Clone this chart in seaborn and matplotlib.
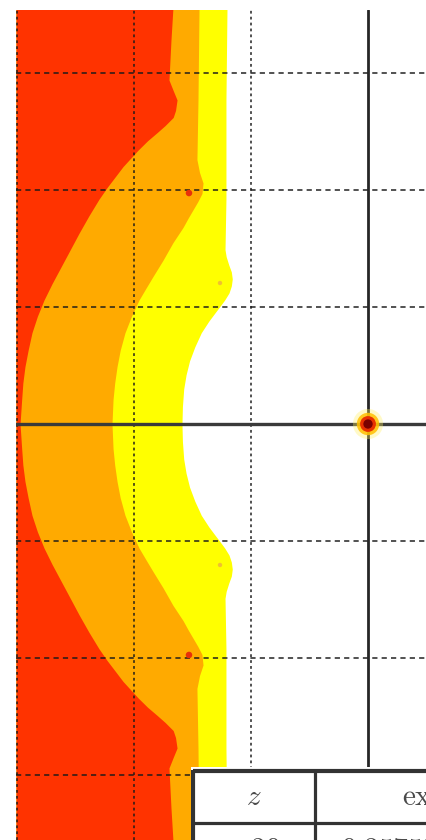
import numpy as np
import matplotlib
matplotlib.use("Agg")
import matplotlib.pyplot as plt
import seaborn as sns

# ---- data (upper half; the plot is mirror-symmetric about Im z = 0) ----
red_y = [3.56, 3.28, 2.94, 2.85, 2.77, 2.68, 2.62, 2.55, 2.49, 2.42, 2.34, 2.20, 2.10,
         2.02, 1.92, 1.78, 1.63, 1.48, 1.34, 1.20, 1.06, 0.92, 0.78, 0.63, 0.49, 0.35,
         0.21, 0.00]
red_x = [-1.667, -1.684, -1.701, -1.665, -1.632, -1.645, -1.665, -1.735, -1.803, -1.885,
         -1.966, -2.094, -2.170, -2.231, -2.300, -2.385, -2.470, -2.550, -2.625, -2.700,
         -2.769, -2.826, -2.872, -2.905, -2.932, -2.950, -2.960, -2.974]

orange_y = [3.56, 2.77, 2.26, 2.15, 2.06, 1.97, 1.90, 1.83, 1.76, 1.68, 1.55, 1.40,
            1.26, 1.16, 1.06, 0.92, 0.78, 0.63, 0.49, 0.35, 0.21, 0.00]
orange_x = [-1.444, -1.453, -1.462, -1.440, -1.410, -1.419, -1.455, -1.496, -1.537,
            -1.581, -1.667, -1.752, -1.838, -1.898, -1.957, -2.022, -2.077, -2.118,
            -2.145, -2.165, -2.179, -2.188]

yellow_y = [3.56, 2.77, 1.92, 1.49, 1.43, 1.36, 1.30, 1.24, 1.18, 1.12, 1.06, 1.01, 0.96,
            0.88, 0.78, 0.66, 0.54, 0.42, 0.30, 0.15, 0.00]
yellow_x = [-1.205, -1.214, -1.214, -1.222, -1.212, -1.190, -1.168, -1.160, -1.168,
            -1.188, -1.225, -1.262, -1.300, -1.360, -1.425, -1.480, -1.525, -1.555,
            -1.575, -1.586, -1.590]

# isolated spots
spot_x = [-1.530, -1.530]
spot_y = [1.974, -1.974]
faint_x = [-1.265, -1.265]
faint_y = [1.205, -1.205]
pole_x = [0.0]
pole_y = [0.0]

grid_x = [-3, -2, -1]
grid_y = [-3, -2, -1, 1, 2, 3]

table_header = [r"$z$", r"$\mathrm{exact}$"]
table_row = [r"$-20$", r"$0.35750$"]

# colours
C_RED = "#ff3300"
C_ORANGE = "#ffaa00"
C_YELLOW = "#ffff00"


def mirror(y, x):
    y = np.asarray(y, float)
    x = np.asarray(x, float)
    yy = np.concatenate([y, -y[::-1][1:]])
    xx = np.concatenate([x, x[::-1][1:]])
    return yy, xx


sns.set_theme(style="white")
plt.rcParams["mathtext.fontset"] = "cm"

W, H = 427, 840
fig = plt.figure(figsize=(W / 100, H / 100), dpi=100)
fig.patch.set_facecolor("white")

px_unit = 117.0
ox, oy = 368.0, 424.0
left_px, top_px = 16.0, 10.0
xl = (left_px - ox) / px_unit
xr = (W - ox) / px_unit
yt = (oy - top_px) / px_unit
yb = -(H - oy) / px_unit

ax = fig.add_axes([left_px / W, 0, 1 - left_px / W, (H - top_px) / H])
ax.set_xlim(xl, xr)
ax.set_ylim(yb, yt)

for (yy, xx, col) in [(yellow_y, yellow_x, C_YELLOW),
                      (orange_y, orange_x, C_ORANGE),
                      (red_y, red_x, C_RED)]:
    Y, X = mirror(yy, xx)
    ax.fill_betweenx(Y, xl, X, color=col, lw=0, zorder=1)

# grid
ax.set_xticks(grid_x)
ax.set_yticks(grid_y)
ax.set_axisbelow(False)
ax.xaxis.grid(True, color="#1a1a1a", lw=1.25, linestyle=(0, (1.6, 1.8)), alpha=0.85)
ax.yaxis.grid(True, color="#1a1a1a", lw=1.25, linestyle=(0, (3.0, 2.4)), alpha=0.85)
ax.tick_params(length=0, labelbottom=False, labelleft=False)
for s in ax.spines.values():
    s.set_visible(False)

ax.axhline(0, color="#3a3a3a", lw=2.4, zorder=3)
ax.axvline(0, color="#262626", lw=2.0, zorder=3)

# spots
sns.scatterplot(x=spot_x, y=spot_y, ax=ax, s=22, color="#e8300a", edgecolor="none",
                zorder=4, legend=False)
sns.scatterplot(x=faint_x, y=faint_y, ax=ax, s=10, color="#f0c030", edgecolor="none",
                zorder=4, legend=False)

# pole at origin (layered glow)
for s, c, a in [(470, "#fff060", 0.35), (260, "#ffc000", 0.85), (130, "#e83000", 1.0),
                (45, "#7a0000", 1.0)]:
    sns.scatterplot(x=pole_x, y=pole_y, ax=ax, s=s, color=c, alpha=a, edgecolor="none",
                    zorder=5, legend=False)

# ---- table (cropped by the picture edge, as in the reference) ----
t_left, t_top = 191.0, 767.0
tab = fig.add_axes([t_left / W, 0, (W - t_left) / W, (H - t_top) / H])
tab.set_xlim(t_left, W)
tab.set_ylim(H, t_top)
tab.set_facecolor("white")
tab.set_xticks([])
tab.set_yticks([])
for s in tab.spines.values():
    s.set_visible(False)
lc = "#333333"
tab.plot([193, W], [771, 771], color=lc, lw=3.0, solid_capstyle="butt")
tab.plot([193, 193], [769.5, H], color=lc, lw=3.0, solid_capstyle="butt")
tab.plot([315, 315], [771, H], color=lc, lw=2.3, solid_capstyle="butt")
tab.plot([193, W], [823, 823], color=lc, lw=2.3, solid_capstyle="butt")

tc = "#4a4a4a"
tab.text(254, 797, table_header[0], fontsize=21, ha="center", va="center", color=tc)
tab.text(402, 797, table_header[1], fontsize=21, ha="left", va="center", color=tc)
tab.text(254, 850, table_row[0], fontsize=21, ha="center", va="center", color=tc)
tab.text(341, 850, table_row[1], fontsize=21, ha="left", va="center", color=tc)

fig.savefig("out.png", dpi=100)
